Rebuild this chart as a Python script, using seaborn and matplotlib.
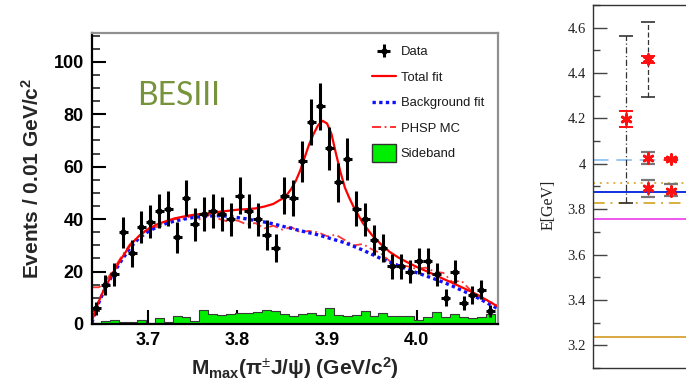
import numpy as np
import pandas as pd
import matplotlib
matplotlib.use("Agg")
import matplotlib.pyplot as plt
from matplotlib.lines import Line2D
from matplotlib.patches import Rectangle
from matplotlib.legend_handler import HandlerPatch
import seaborn as sns

sns.set_theme(style="white")
plt.rcParams['font.family'] = ['Liberation Sans', 'DejaVu Sans']
plt.rcParams['mathtext.fontset'] = 'custom'
plt.rcParams['mathtext.rm'] = 'Liberation Sans'
plt.rcParams['mathtext.it'] = 'Liberation Sans:italic'
plt.rcParams['mathtext.bf'] = 'Liberation Sans:bold'

# ---------------- data: left panel ----------------
bin_lo = 3.6375
bin_w = 0.01
data_counts = [6, 15, 19, 35, 27, 37, 39, 43, 44, 33, 48, 38, 42, 43, 42,
               40, 49, 43, 40, 34, 29, 49, 48, 62, 77, 83, 67, 54, 63, 44,
               40, 32, 29, 22, 22, 20, 24, 24, 19, 10, 20, 8, 11, 13, 5]
sideband = [0.4, 1.0, 1.5, 0.9, 0.9, 1.5, 0.5, 2.3, 0.9, 3.2, 2.6, 1.0, 5.5, 3.8, 3.6,
            3.8, 4.2, 4.2, 4.5, 5.4, 4.9, 3.8, 3.2, 3.8, 4.1, 3.6, 6.2, 3.6, 3.2, 3.6,
            4.9, 3.2, 4.1, 3.2, 2.9, 3.2, 1.5, 2.6, 4.5, 2.6, 3.8, 2.6, 2.3, 2.6, 3.8]

bg_x = [3.6375, 3.64, 3.645, 3.65, 3.66, 3.67, 3.68, 3.69, 3.70, 3.71, 3.72, 3.73, 3.74,
        3.75, 3.76, 3.77, 3.78, 3.79, 3.80, 3.81, 3.82, 3.83, 3.84, 3.85, 3.86, 3.87,
        3.88, 3.89, 3.90, 3.91, 3.92, 3.93, 3.94, 3.95, 3.96, 3.97, 3.98, 3.99, 4.00,
        4.01, 4.02, 4.03, 4.04, 4.05, 4.06, 4.07, 4.08, 4.09]
bg_y = [0.5, 3.5, 8, 12, 18.5, 24, 29, 32.8, 35.2, 37, 38.3, 39.3, 40,
        40.6, 41, 41.2, 41.3, 41.1, 40.6, 40.1, 39.4, 38.9, 38.2, 37.3, 36.5, 35.6,
        34.8, 34, 33, 32, 31, 29.6, 28.2, 26.6, 25, 23.6, 22.2, 20.8, 19.6,
        18.4, 17.2, 15.9, 14.5, 12.9, 11.4, 9.7, 7.8, 6]

tot_x = [3.6375, 3.64, 3.645, 3.65, 3.66, 3.67, 3.68, 3.69, 3.70, 3.71, 3.72, 3.73, 3.74,
         3.75, 3.76, 3.77, 3.78, 3.79, 3.80, 3.81, 3.82, 3.83, 3.84, 3.85, 3.855, 3.86,
         3.865, 3.87, 3.875, 3.88, 3.885, 3.89, 3.895, 3.90, 3.905, 3.91, 3.915, 3.92,
         3.925, 3.93, 3.94, 3.95, 3.96, 3.97, 3.98, 3.99, 4.00, 4.01, 4.02, 4.03, 4.04,
         4.05, 4.06, 4.07, 4.08, 4.09]
tot_y = [1, 4, 8.5, 12.5, 19, 24.8, 30, 33.6, 36.2, 38, 39.2, 40.3, 41,
         41.6, 42, 42.3, 42.8, 43.2, 43.6, 43.8, 44.1, 44.8, 45.8, 47.8, 49.2, 51.5,
         54.5, 58.5, 63.5, 68.5, 72.5, 75.8, 77.5, 76.5, 72.5, 65, 58, 52,
         48, 44.5, 38.5, 34, 30.5, 27.5, 25.3, 23.5, 21.8, 20.3, 18.8, 17.2, 15.7,
         14.1, 12.5, 10.8, 8.8, 6.8]

phsp_x = [3.6375, 3.645, 3.65, 3.66, 3.67, 3.68, 3.69, 3.70, 3.71, 3.72, 3.73, 3.74,
          3.75, 3.76, 3.77, 3.78, 3.79, 3.80, 3.81, 3.82, 3.83, 3.84, 3.85, 3.86, 3.87,
          3.88, 3.89, 3.90, 3.91, 3.92, 3.93, 3.94, 3.95, 3.96, 3.97, 3.98, 3.99, 4.00,
          4.01, 4.02, 4.03, 4.04, 4.05, 4.06, 4.07, 4.08, 4.09]
phsp_y = [14, 14, 15, 20, 25.5, 30.5, 33.5, 36.5, 37, 39, 40, 40, 41.5, 39.5, 42, 40,
          39, 39.5, 38, 38.5, 36.5, 37.5, 36, 37, 35, 35.5, 35, 33.5, 34, 32, 30, 30.5,
          28.5, 27, 24, 22.5, 22, 21, 21.5, 20, 19.5, 16, 16.5, 13, 10, 9, 7]

y_ticks = [0, 20, 40, 60, 80, 100]
x_ticks = [3.7, 3.8, 3.9, 4.0]
legend_labels = ["Data", "Total fit", "Background fit", "PHSP MC", "Sideband"]

# ---------------- data: right panel ----------------
col_pos = [1, 2, 3]
wide_lo = [3.826, 4.294]
wide_hi = [4.565, 4.625]
red_x = [1, 2, 3]
red_y = [4.197, 4.460, 4.022]
red_lo = [4.164, 4.446, 4.017]
red_hi = [4.233, 4.475, 4.027]
blk_x = [2, 2, 3]
blk_y = [4.025, 3.893, 3.882]
blk_lo = [4.000, 3.853, 3.858]
blk_hi = [4.050, 3.929, 3.910]
hline_vals = [4.015, 3.915, 3.875, 3.826, 3.757, 3.237]
hline_cols = ['#99c8f5', '#e0b040', '#1030e0', '#d8b040', '#ee55ee', '#d8a840']
hline_styles = [(0, (8, 4)), (0, (1, 2.5)), '-', (0, (6, 3, 1, 3)), '-', '-']
r_ticks = [3.2, 3.4, 3.6, 3.8, 4.0, 4.2, 4.4, 4.6]
r_tick_labels = ['3.2', '3.4', '3.6', '3.8', '4', '4.2', '4.4', '4.6']

W, H = 686, 386
fig = plt.figure(figsize=(W / 100, H / 100), dpi=100)
fig.patch.set_facecolor('white')

# ---------------- left panel ----------------
ax = fig.add_axes([92 / W, 1 - 324 / H, (498 - 92) / W, (324 - 33) / H])
n = len(data_counts)
centers = bin_lo + bin_w * (np.arange(n) + 0.5)
edges = [float(e) for e in bin_lo + bin_w * np.arange(n + 1)]

sb_df = pd.DataFrame({"m": centers, "w": sideband})
sns.histplot(data=sb_df, x="m", weights="w", bins=edges, element="step", fill=True,
             color="#00ee00", alpha=1.0, edgecolor="#3a3a3a", linewidth=0.8, ax=ax)

sns.lineplot(x=phsp_x, y=phsp_y, ax=ax, color="#ff2020", lw=1.3,
             linestyle=(0, (5, 2, 1, 2)), alpha=0.9)
sns.lineplot(x=bg_x, y=bg_y, ax=ax, color="#1010ff", lw=2.4, linestyle=(0, (1, 1)))
sns.lineplot(x=tot_x, y=tot_y, ax=ax, color="#ff0000", lw=1.6)

counts = np.array(data_counts, dtype=float)
eb = ax.errorbar(centers, counts, yerr=np.sqrt(counts), xerr=bin_w / 2, fmt='o',
                 color='black', ms=3.5, elinewidth=2.2, capsize=0, zorder=5)

ax.set_xlim(3.6375, 4.091)
ax.set_ylim(0, 111)
ax.set_xticks(x_ticks)
ax.set_xticklabels(["3.7", "3.8", "3.9", "4.0"])
ax.set_yticks(y_ticks)
ax.set_yticks(np.arange(0, 111, 5), minor=True)
ax.tick_params(axis='both', which='major', direction='in', length=10, width=1.5,
               colors='black', labelsize=13, pad=6)
ax.tick_params(axis='y', which='minor', direction='in', length=6, width=1.2, left=True)
ax.tick_params(axis='x', which='both', bottom=True, top=False)
ax.tick_params(axis='y', which='both', left=True, right=False)
for lab in ax.get_xticklabels() + ax.get_yticklabels():
    lab.set_fontweight('bold')
ax.set_xlabel(r"M$_{\mathregular{max}}$(π$^{\pm}$J/ψ) (GeV/c$^{\mathregular{2}}$)",
              fontsize=15, fontweight='bold', labelpad=4)
ax.set_ylabel(r"Events / 0.01 GeV/c$^{\mathregular{2}}$", fontsize=15,
              fontweight='bold', labelpad=8)
for s in ['left', 'bottom']:
    ax.spines[s].set_color('black')
    ax.spines[s].set_linewidth(1.6)
for s in ['top', 'right']:
    ax.spines[s].set_color('#909090')
    ax.spines[s].set_linewidth(1.6)
ax.set_facecolor('white')

ax.text(137 / W, 1 - 96 / H, "BESIII", transform=fig.transFigure, fontsize=23,
        color='#77933c', family=['Lato', 'DejaVu Sans'], va='center', ha='left')


def tall_patch(legend, orig_handle, xdescent, ydescent, width, height, fontsize):
    return Rectangle((-xdescent, -ydescent - 0.5 * height), width, height * 2.0)


h_tot = Line2D([], [], color="#ff0000", lw=1.6)
h_bg = Line2D([], [], color="#1010ff", lw=2.4, linestyle=(0, (1, 1)))
h_ph = Line2D([], [], color="#ff2020", lw=1.3, linestyle=(0, (5, 2, 1, 2)))
h_sb = Rectangle((0, 0), 1, 1, facecolor="#00ee00", edgecolor="#333333", lw=1)
leg = ax.legend([eb, h_tot, h_bg, h_ph, h_sb], legend_labels,
                loc='upper left', bbox_to_anchor=(372 / W, 1 - 46 / H),
                bbox_transform=fig.transFigure, frameon=False, fontsize=9.4,
                handlelength=1.8, handletextpad=0.4, labelspacing=1.03,
                borderpad=0, borderaxespad=0,
                handler_map={Rectangle: HandlerPatch(patch_func=tall_patch)})
for t in leg.get_texts():
    t.set_color('#1a1a1a')

# ---------------- right panel ----------------
ax2 = fig.add_axes([593 / W, 1 - 368 / H, 0.36, (368 - 5) / H])
ax2.set_xlim(-0.476, 10.6)
ax2.set_ylim(3.1, 4.7)
for v, c, ls in zip(hline_vals, hline_cols, hline_styles):
    ax2.axhline(v, color=c, lw=1.4, linestyle=ls, zorder=1)

for x, lo, hi, ls in zip(col_pos[:2], wide_lo, wide_hi, [(0, (5, 2, 1, 2)), (0, (4, 2))]):
    mid = (lo + hi) / 2
    e = ax2.errorbar([x], [mid], yerr=[[mid - lo], [hi - mid]], fmt='none',
                     ecolor='#333333', elinewidth=0.9, capsize=5, capthick=1.2, zorder=2)
    e[2][0].set_linestyle(ls)

ax2.errorbar(blk_x, blk_y,
             yerr=[np.array(blk_y) - np.array(blk_lo), np.array(blk_hi) - np.array(blk_y)],
             fmt='none', ecolor='#777777', elinewidth=1.0, capsize=5, capthick=1.6, zorder=3)
ax2.errorbar(red_x, red_y,
             yerr=[np.array(red_y) - np.array(red_lo), np.array(red_hi) - np.array(red_y)],
             fmt='none', ecolor='#ff1010', elinewidth=1.0, capsize=5, capthick=1.4, zorder=3)
star_df = pd.DataFrame({"x": red_x + blk_x, "y": red_y + blk_y})
sns.scatterplot(data=star_df, x="x", y="y", ax=ax2, marker=(6, 2, 0), s=50,
                color='#ff1010', edgecolor='#ff1010', linewidth=2.0, zorder=4)

ax2.set_yticks(r_ticks)
ax2.set_yticklabels(r_tick_labels, family=['Liberation Serif', 'DejaVu Serif'])
ax2.set_yticks(np.arange(3.1, 4.71, 0.1), minor=True)
ax2.set_xticks([])
ax2.tick_params(axis='y', which='major', direction='in', length=10, width=1.0,
                colors='#444444', labelcolor='#222222', labelsize=10.5, pad=5, left=True)
ax2.tick_params(axis='y', which='minor', direction='in', length=5, width=1.0,
                colors='#444444', left=True)
ax2.set_xlabel("")
ax2.set_ylabel("E[GeV]", family=['Liberation Serif', 'DejaVu Serif'], fontsize=11.5,
               color='#222222')
ax2.yaxis.set_label_coords((557 - 593) / (0.36 * W), 0.45)
for s in ax2.spines.values():
    s.set_color('#333333')
    s.set_linewidth(1.0)
ax2.set_facecolor('white')

fig.savefig("out.png", dpi=100, facecolor='white')
